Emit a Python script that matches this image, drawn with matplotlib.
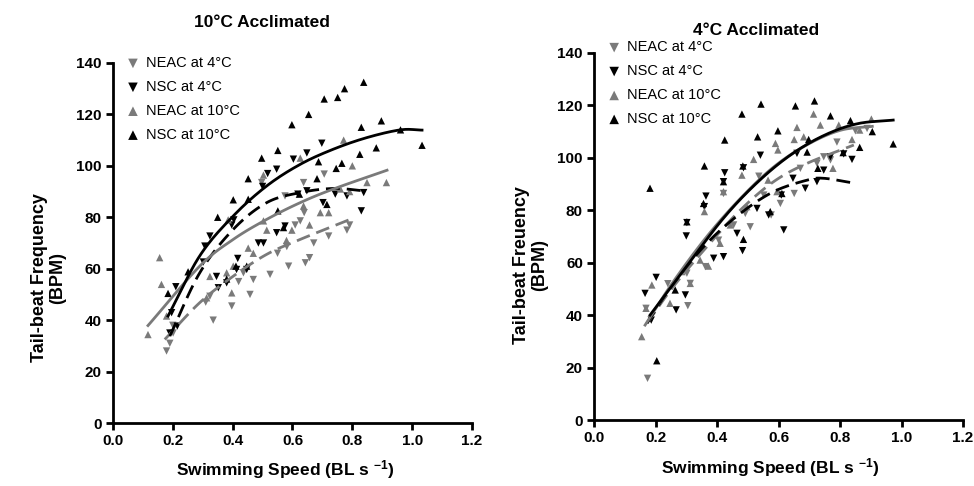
import matplotlib
matplotlib.use("Agg")
import matplotlib.pyplot as plt
import numpy as np

plt.rcParams['font.family'] = ['Liberation Sans', 'DejaVu Sans']
plt.rcParams['mathtext.default'] = 'regular'

# ---------------- data: 10°C acclimated (left) ----------------
L_neac4_x = [0.179, 0.19, 0.201, 0.335, 0.397, 0.458, 0.469, 0.525, 0.587, 0.643, 0.657, 0.671,
             0.721, 0.782, 0.791, 0.581, 0.609, 0.626, 0.639, 0.575, 0.637, 0.706, 0.497, 0.436,
             0.324, 0.2, 0.31, 0.42, 0.55]
L_neac4_y = [28, 31, 35, 40, 45.5, 50, 55.8, 57.8, 61, 62.3, 64.3, 70,
             72.7, 75, 77, 68.6, 77, 78.6, 81.8, 88.3, 93.5, 96.8, 93.5, 58.4,
             49.3, 38, 47, 55, 66]
L_nsc4_x = [0.698, 0.648, 0.603, 0.547, 0.517, 0.5, 0.404, 0.397, 0.324, 0.307, 0.302, 0.21,
            0.196, 0.19, 0.215, 0.618, 0.648, 0.702, 0.743, 0.782, 0.838, 0.83, 0.547, 0.575,
            0.486, 0.503, 0.417, 0.413, 0.38, 0.352, 0.346, 0.447]
L_nsc4_y = [108.8, 105, 102.6, 98.7, 97, 92, 79, 77, 72.7, 68.8, 62.6, 53,
            42.9, 35, 37.7, 89, 90.3, 85.7, 89, 88.3, 89.6, 82.5, 74, 76.6,
            70, 70, 64, 59.7, 54.5, 52.6, 57, 59.7]
L_neac10_x = [0.156, 0.117, 0.162, 0.179, 0.324, 0.313, 0.385, 0.503, 0.626, 0.771, 0.8, 0.849,
              0.914, 0.637, 0.693, 0.721, 0.657, 0.598, 0.503, 0.452, 0.402, 0.38, 0.397, 0.469,
              0.514, 0.58, 0.76, 0.791]
L_neac10_y = [64.3, 34.4, 53.9, 41.6, 57, 48.7, 79, 96.4, 103, 110, 100, 93.5,
              93.5, 84.4, 81.8, 81.8, 77, 75, 78.6, 68, 61, 58.4, 50.6, 66,
              75, 71, 91, 90]
L_nsc10_x = [0.838, 0.774, 0.751, 0.706, 0.654, 0.598, 0.83, 0.897, 0.961, 1.033, 0.88, 0.825,
             0.551, 0.497, 0.687, 0.452, 0.682, 0.746, 0.765, 0.402, 0.452, 0.35, 0.251, 0.184,
             0.551, 0.623, 0.57, 0.715, 0.411, 0.447, 0.38]
L_nsc10_y = [132.5, 130, 126.6, 126, 120, 116, 115, 117.5, 114, 108, 107, 104.5,
             106, 103, 101.6, 95, 95, 99, 101, 86.8, 87, 80, 58.8, 50.4,
             82.5, 89, 76, 85, 61, 61, 56]

# fitted curves (left)
L_fit_neac4_x = [0.173, 0.29, 0.402, 0.514, 0.626, 0.793]
L_fit_neac4_y = [32.5, 46.8, 57.1, 65.6, 71.4, 79.2]
L_fit_nsc4_x = [0.19, 0.29, 0.402, 0.514, 0.626, 0.737, 0.838]
L_fit_nsc4_y = [33.8, 58.4, 75.3, 85.7, 89.6, 91.2, 90.3]
L_fit_neac10_x = [0.117, 0.29, 0.402, 0.514, 0.626, 0.737, 0.916]
L_fit_neac10_y = [37.9, 61, 71.4, 79.2, 85.7, 91, 98.3]
L_fit_nsc10_x = [0.184, 0.29, 0.402, 0.514, 0.626, 0.737, 0.849, 0.961, 1.033]
L_fit_nsc10_y = [41.6, 65, 80.5, 92.2, 100.6, 106.5, 111, 114, 113.9]

# ---------------- data: 4°C acclimated (right) ----------------
R_neac4_x = [0.174, 0.169, 0.305, 0.313, 0.302, 0.421, 0.536, 0.606, 0.651, 0.747, 0.79, 0.85,
             0.888, 0.362, 0.405, 0.454, 0.508, 0.492, 0.552, 0.671, 0.725, 0.769, 0.576, 0.24]
R_neac4_y = [15.9, 42.6, 43.6, 52.1, 56, 86.4, 93, 82.6, 86.4, 100.4, 106, 110.3,
             111.2, 58.5, 68.6, 74.4, 73.7, 78.8, 85.8, 96, 97.9, 99.2, 78.2, 52]
R_nsc4_x = [0.202, 0.166, 0.186, 0.267, 0.297, 0.3, 0.302, 0.364, 0.359, 0.425, 0.421, 0.486,
            0.541, 0.617, 0.687, 0.725, 0.839, 0.812, 0.483, 0.421, 0.389, 0.465, 0.568, 0.53,
            0.609, 0.647, 0.747, 0.769, 0.66]
R_nsc4_y = [54.4, 48.3, 38.1, 42, 47.7, 70.2, 75.3, 85.4, 81.4, 94.3, 90.9, 96.2,
            101, 72.5, 88.4, 90.9, 99.4, 101.5, 64.6, 62.3, 61.7, 71.2, 78.2, 80.7,
            85.8, 92.2, 95.3, 100.4, 101.7]
R_neac10_x = [0.155, 0.169, 0.188, 0.247, 0.313, 0.359, 0.421, 0.481, 0.519, 0.59, 0.598, 0.66,
              0.714, 0.736, 0.796, 0.839, 0.864, 0.902, 0.777, 0.651, 0.682, 0.497, 0.566, 0.345,
              0.372, 0.41, 0.443, 0.595, 0.286]
R_neac10_y = [31.8, 42.6, 51.5, 44.5, 52.1, 79.5, 87.1, 93.4, 99.4, 105.5, 103, 111.6,
              116.7, 112.5, 112.5, 107, 110.6, 114.8, 96, 107, 108, 81.4, 91.5, 61,
              58.7, 67.4, 74.4, 87.1, 56.6]
R_nsc10_x = [0.182, 0.204, 0.359, 0.425, 0.481, 0.543, 0.532, 0.598, 0.655, 0.717, 0.769, 0.834,
             0.905, 0.864, 0.973, 0.693, 0.698, 0.486, 0.611, 0.484, 0.421, 0.356, 0.302, 0.728,
             0.81, 0.573, 0.264]
R_nsc10_y = [88.4, 22.6, 96.9, 106.8, 116.7, 120.5, 108, 110.3, 119.8, 121.7, 116, 114.2,
             110, 104, 105.3, 102.2, 107, 68.9, 86.4, 96.9, 90.9, 82.6, 75.6, 96,
             102, 79.5, 49.6]

# fitted curves (right)
R_fit_neac4_x = [0.172, 0.258, 0.367, 0.476, 0.584, 0.693, 0.845]
R_fit_neac4_y = [36.9, 50.9, 66.1, 80.1, 90.9, 97.9, 104.9]
R_fit_nsc4_x = [0.172, 0.258, 0.367, 0.476, 0.584, 0.693, 0.747, 0.839]
R_fit_nsc4_y = [36.9, 52.1, 67.4, 78.8, 87.1, 91.5, 92.2, 90.5]
R_fit_neac10_x = [0.166, 0.258, 0.367, 0.476, 0.584, 0.693, 0.801, 0.905]
R_fit_neac10_y = [36.2, 52.8, 70, 84.5, 96.5, 105.0, 110.5, 112.0]
R_fit_nsc10_x = [0.182, 0.3, 0.421, 0.53, 0.638, 0.747, 0.856, 0.973]
R_fit_nsc10_y = [40, 58.5, 77, 90.5, 101, 108.5, 113, 114.4]

labels = ["NEAC at 4°C", "NSC at 4°C", "NEAC at 10°C", "NSC at 10°C"]
x_ticks = [0.0, 0.2, 0.4, 0.6, 0.8, 1.0, 1.2]
y_ticks = [0, 20, 40, 60, 80, 100, 120, 140]

GRAY = "#7a7a7a"
BLACK = "#000000"

fig = plt.figure(figsize=(9.74, 4.86), dpi=100)


def smooth(xs, ys, n=20):
    """Catmull-Rom spline through the read curve points (drawing only)."""
    p = np.column_stack([xs, ys]).astype(float)
    p = np.vstack([2 * p[0] - p[1], p, 2 * p[-1] - p[-2]])
    out = []
    t = np.linspace(0, 1, n, endpoint=False)[:, None]
    for i in range(1, len(p) - 2):
        p0, p1, p2, p3 = p[i - 1], p[i], p[i + 1], p[i + 2]
        seg = 0.5 * ((2 * p1) + (-p0 + p2) * t + (2 * p0 - 5 * p1 + 4 * p2 - p3) * t ** 2
                     + (-p0 + 3 * p1 - 3 * p2 + p3) * t ** 3)
        out.append(seg)
    out.append(p[-2][None, :])
    out = np.vstack(out)
    return out[:, 0], out[:, 1]


def panel(ax, pts, fits, legend_anchor):
    styles = [("v", GRAY), ("v", BLACK), ("^", GRAY), ("^", BLACK)]
    handles = []
    for (px, py), (m, c), lab in zip(pts, styles, labels):
        h = ax.scatter(px, py, marker=m, s=28, color=c, edgecolors='none', label=lab,
                       zorder=3, clip_on=False)
        handles.append(h)
    lstyles = [(GRAY, (0, (5, 2.5))), (BLACK, (0, (5, 2.5))), (GRAY, '-'), (BLACK, '-')]
    for (fx, fy), (c, ls) in zip(fits, lstyles):
        xx, yy = smooth(fx, fy)
        ax.plot(xx, yy, color=c, lw=2.0, linestyle=ls, zorder=4)
    ax.set_xlim(0, 1.2)
    ax.set_ylim(0, 140)
    ax.set_xticks(x_ticks)
    ax.set_xticklabels([f"{v:.1f}" for v in x_ticks])
    ax.set_yticks(y_ticks)
    for s in ['top', 'right']:
        ax.spines[s].set_visible(False)
    for s in ['left', 'bottom']:
        ax.spines[s].set_linewidth(2.0)
    ax.tick_params(direction='out', length=5, width=2.0, labelsize=11, pad=3)
    for t in ax.get_xticklabels() + ax.get_yticklabels():
        t.set_fontweight('bold')
    ax.legend(handles=handles, loc='upper left', bbox_to_anchor=legend_anchor, frameon=False,
              fontsize=10.5, handletextpad=0.3, labelspacing=0.68, borderaxespad=0,
              scatterpoints=1, handlelength=1.2, markerscale=1.3)


axL = fig.add_axes([0.116, 0.1296, 0.3686, 0.7408])
panel(axL,
      [(L_neac4_x, L_neac4_y), (L_nsc4_x, L_nsc4_y), (L_neac10_x, L_neac10_y), (L_nsc10_x, L_nsc10_y)],
      [(L_fit_neac4_x, L_fit_neac4_y), (L_fit_nsc4_x, L_fit_nsc4_y),
       (L_fit_neac10_x, L_fit_neac10_y), (L_fit_nsc10_x, L_fit_nsc10_y)],
      (0.015, 1.035))

axR = fig.add_axes([0.6099, 0.1358, 0.3788, 0.7552])
panel(axR,
      [(R_neac4_x, R_neac4_y), (R_nsc4_x, R_nsc4_y), (R_neac10_x, R_neac10_y), (R_nsc10_x, R_nsc10_y)],
      [(R_fit_neac4_x, R_fit_neac4_y), (R_fit_nsc4_x, R_fit_nsc4_y),
       (R_fit_neac10_x, R_fit_neac10_y), (R_fit_nsc10_x, R_fit_nsc10_y)],
      (0.015, 1.05))

fig.text(0.269, 0.953, "10°C Acclimated", ha='center', va='center', fontsize=12.5, fontweight='bold')
fig.text(0.776, 0.938, "4°C Acclimated", ha='center', va='center', fontsize=12.5, fontweight='bold')

fig.text(0.050, 0.428, "Tail-beat Frequency\n(BPM)", rotation=90, ha='center', va='center',
         fontsize=13, fontweight='bold', linespacing=1.1)
fig.text(0.545, 0.455, "Tail-beat Freuency\n(BPM)", rotation=90, ha='center', va='center',
         fontsize=13, fontweight='bold', linespacing=1.1)

fig.text(0.293, 0.033, r"Swimming Speed (BL s $^{-1}$)", ha='center', va='center',
         fontsize=12.5, fontweight='bold')
fig.text(0.791, 0.037, r"Swimming Speed (BL s $^{-1}$)", ha='center', va='center',
         fontsize=12.5, fontweight='bold')

fig.savefig("out.png", dpi=100)
